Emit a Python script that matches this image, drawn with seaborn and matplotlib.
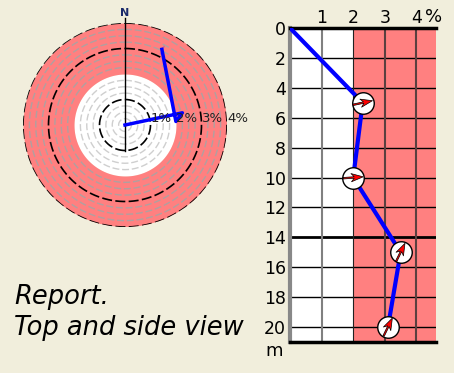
import numpy as np
import pandas as pd
import seaborn as sns
import matplotlib.pyplot as plt

# current profile: depth (m), speed (%), direction (deg from north)
depth = [0, 5, 10, 15, 20]
speed = [0.0, 2.3, 2.0, 3.5, 3.1]
direction = [90, 78, 86, 26, 26]

y_ticks = [0, 2, 4, 6, 8, 10, 12, 14, 16, 18, 20]
x_ticks = [1, 2, 3, 4]
ring_labels = ["1%", "2%", "3%", "4%"]

BG = "#F1EEDC"
RED = "#FF8080"

df = pd.DataFrame({"depth": depth, "speed": speed, "dir": direction})
df["theta"] = np.deg2rad(df["dir"])
pts = df[df["depth"] > 0]

fig = plt.figure(figsize=(4.54, 3.73), dpi=100, facecolor=BG)

# ---- top view (polar) ----
pax = fig.add_axes([23 / 454, 1 - 227 / 373, 204 / 454, 204 / 373], projection="polar")
pax.set_facecolor("none")
pax.set_theta_zero_location("N")
pax.set_theta_direction(-1)
pax.set_ylim(0, 4)
pax.grid(False)
pax.set_xticks([])
pax.set_yticks([])
pax.spines["polar"].set_visible(False)

th = np.linspace(0, 2 * np.pi, 400)
pax.fill_between(th, 0, 2, color="white", lw=0)
pax.fill_between(th, 2, 4, color=RED, lw=0)
for r in np.arange(0.25, 4.0, 0.25):
    if r in (1, 2, 3):
        continue
    c = "#cfcfcf" if r < 2 else "#b0a0a0"
    pax.plot(th, np.full_like(th, r), color=c, lw=1, dashes=(5, 2))
for r in (1, 3, 4):
    pax.plot(th, np.full_like(th, r), color="black", lw=1.2, dashes=(6, 2))
pax.plot([0, 0], [4.2, 0], color="black", lw=1, clip_on=False)
pax.plot([np.pi, np.pi], [0, 1], color="black", lw=1)

sns.lineplot(x=df["theta"], y=df["speed"], ax=pax, sort=False, color="blue", lw=2.5)
pax.set_xlabel("")
pax.set_ylabel("")

for r, lab in zip(x_ticks, ring_labels):
    pax.text(np.pi / 2, r, lab, ha="left", va="bottom", fontsize=9.5,
             color="#222222")
pax.text(0, 4.4, "N", ha="center", va="center", fontsize=8, color="#1a2a6a",
         fontweight="bold", clip_on=False)

# ---- side view ----
ax = fig.add_axes([290 / 454, 1 - 342 / 373, 146 / 454, 314 / 373])
ax.set_xlim(0, 4.62)
ax.set_ylim(21, 0)
ax.axvspan(0, 2, color="white", lw=0)
ax.axvspan(2, 4.62, color=RED, lw=0)
for y in y_ticks[1:]:
    ax.axhline(y, color="black", lw=2 if y == 14 else 1, zorder=1)
ax.axvline(1, color="#808080", lw=1.5, zorder=1)
ax.axvline(2, color="#222222", lw=0.8, zorder=1)
for x in (3, 4):
    ax.axvline(x, color="#5a4040", lw=1.5, zorder=1)

sns.lineplot(data=df, x="speed", y="depth", ax=ax, sort=False, color="blue",
             lw=3, zorder=3)
sns.scatterplot(data=pts, x="speed", y="depth", ax=ax, s=240, color="white",
                edgecolor="black", linewidth=1, zorder=4)
ax.quiver(pts["speed"], pts["depth"], np.sin(pts["theta"]), np.cos(pts["theta"]),
          angles="uv", pivot="middle", units="dots", width=1.5, headwidth=5.5,
          headlength=8, headaxislength=6, scale_units="dots", scale=1 / 20,
          color="red", edgecolor="black", linewidth=0.5, zorder=5)

ax.set_xlabel("")
ax.set_ylabel("")
ax.xaxis.tick_top()
ax.set_xticks(x_ticks)
ax.set_xticklabels([str(v) for v in x_ticks])
ax.set_yticks(y_ticks)
ax.tick_params(length=0, labelsize=12.5, pad=3)
ax.tick_params(axis="x", pad=1)
ax.spines["right"].set_visible(False)
ax.spines["top"].set_linewidth(2.5)
ax.spines["bottom"].set_linewidth(2.5)
ax.spines["left"].set_linewidth(3)
ax.spines["left"].set_color("#888888")
ax.text(0.98, 1.005, "%", transform=ax.transAxes, ha="center", va="bottom",
        fontsize=13)
fig.text(274 / 454, 1 - 351 / 373, "m", ha="center", va="center", fontsize=13)

fig.text(14 / 454, 1 - 297 / 373, "Report.", fontsize=18.5, style="italic",
         ha="left", va="center")
fig.text(14 / 454, 1 - 328 / 373, "Top and side view", fontsize=18.5,
         style="italic", ha="left", va="center")

fig.savefig("out.png", dpi=100, facecolor=BG)
